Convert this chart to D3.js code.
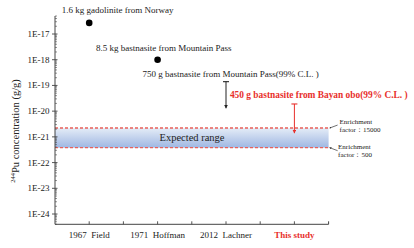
<!DOCTYPE html>
<html lang="en">
<head>
<meta charset="UTF-8">
<title>244Pu concentration</title>
<style>
    body { margin: 0; background: #fff; }
    svg text { font-family: "Liberation Serif", "Times New Roman", serif; fill: #222; }
    .red { fill: #e8302c; }
</style>
</head>
<body>
<svg width="414" height="248"></svg>
<script src="https://d3js.org/d3.v7.min.js"></script>
<script>
// data
const categories = ["1967  Field", "1971  Hoffman", "2012  Lachner", "This study"];
const categoryPos = [1, 3, 5, 7];
const yTicks = [1e-24, 1e-23, 1e-22, 1e-21, 1e-20, 1e-19, 1e-18, 1e-17];

const measured = [
    { pos: 1, value: 2.7e-17, label: "1.6 kg gadolinite from Norway" },
    { pos: 3, value: 1.0e-18, label: "8.5 kg bastnasite from Mountain Pass" }
];
const upperLimits = [
    { pos: 5, limit: 1.4e-19, tip: 1.3e-20, label: "750 g bastnasite from Mountain Pass(99% C.L. )", red: false },
    { pos: 7, limit: 1.9e-20, tip: 1.4e-21, label: "450 g bastnasite from Bayan obo(99% C.L. )", red: true }
];
const expectedRange = { high: 2.2e-21, low: 3.8e-22 };
const enrichment = [
    { value: 2.2e-21, lines: ["Enrichment", "factor\uFF1A15000"] },
    { value: 3.8e-22, lines: ["Enrichment", "factor\uFF1A500"] }
];

const svg = d3.select("svg");
const red = "#e8302c";
const dark = "#222";

const x = d3.scaleLinear().domain([0, 8]).range([55, 328.6]);
const y = d3.scaleLog().domain([Math.pow(10, -24.4), Math.pow(10, -16.3)]).range([224.3, 16]);

const defs = svg.append("defs");
const grad = defs.append("linearGradient").attr("id", "band")
    .attr("x1", 0).attr("y1", 0).attr("x2", 0).attr("y2", 1);
grad.append("stop").attr("offset", "0%").attr("stop-color", "#e4ecf7");
grad.append("stop").attr("offset", "100%").attr("stop-color", "#9fb7e2");

function marker(id, color, size) {
    defs.append("marker").attr("id", id)
        .attr("viewBox", "0 0 10 10").attr("refX", 9).attr("refY", 5)
        .attr("markerWidth", size).attr("markerHeight", size)
        .attr("orient", "auto-start-reverse")
        .append("path").attr("d", "M0,0L10,5L0,10z").attr("fill", color);
}
marker("arrDark", dark, 4);
marker("arrRed", red, 4);
marker("arrSmall", "#333", 3);

// expected range band
svg.append("rect")
    .attr("x", x(0)).attr("y", y(expectedRange.high))
    .attr("width", x(8) - x(0))
    .attr("height", y(expectedRange.low) - y(expectedRange.high))
    .attr("fill", "url(#band)");
[expectedRange.high, expectedRange.low].forEach(v => {
    svg.append("line")
        .attr("x1", x(0)).attr("x2", x(8))
        .attr("y1", y(v)).attr("y2", y(v))
        .attr("stroke", "#e8605a").attr("stroke-width", 1.4)
        .attr("stroke-dasharray", "3,2");
});
svg.append("text")
    .attr("x", 192).attr("y", (y(expectedRange.high) + y(expectedRange.low)) / 2 + 3.5)
    .attr("text-anchor", "middle").attr("font-size", 10.5)
    .text("Expected range");

// enrichment notes
enrichment.forEach((d, i) => {
    const yy = y(d.value);
    const dy = i === 0 ? -3 : 3;
    svg.append("line")
        .attr("x1", x(8) + 9).attr("y1", yy + dy)
        .attr("x2", x(8) + 1).attr("y2", yy)
        .attr("stroke", "#333").attr("stroke-width", 0.7)
        .attr("marker-end", "url(#arrSmall)");
    const t = svg.append("text")
        .attr("x", x(8) + 11 - i * 1.5).attr("y", yy + (i === 0 ? -4 : 1))
        .attr("font-size", 7);
    d.lines.forEach((l, j) => t.append("tspan")
        .attr("x", x(8) + 11 - i * 1.5).attr("dy", j === 0 ? 0 : 8.2).text(l));
});

// axes
const yAxis = svg.append("g").attr("transform", `translate(${x(0)},0)`);
yAxis.append("line").attr("x1", 0).attr("x2", 0)
    .attr("y1", y.range()[0]).attr("y2", y.range()[1])
    .attr("stroke", "#444").attr("stroke-width", 1);
const minors = [];
for (let e = -25; e <= -17; e++) {
    for (let m = 2; m <= 9; m++) {
        const v = m * Math.pow(10, e);
        if (v >= y.domain()[0] && v <= y.domain()[1]) minors.push(v);
    }
}
yAxis.selectAll(".minor").data(minors).join("line")
    .attr("x1", 0).attr("x2", 2)
    .attr("y1", d => y(d)).attr("y2", d => y(d))
    .attr("stroke", "#444").attr("stroke-width", 0.6);
yAxis.selectAll(".major").data(yTicks).join("line")
    .attr("x1", -3).attr("x2", 2.5)
    .attr("y1", d => y(d)).attr("y2", d => y(d))
    .attr("stroke", "#444").attr("stroke-width", 0.9);
yAxis.selectAll(".lbl").data(yTicks).join("text")
    .attr("x", -5.5).attr("y", d => y(d) + 3)
    .attr("text-anchor", "end").attr("font-size", 9)
    .text(d => "1E" + Math.round(Math.log10(d)));

const xAxis = svg.append("g").attr("transform", `translate(0,${y.range()[0]})`);
xAxis.append("line").attr("x1", x(0)).attr("x2", x(8))
    .attr("y1", 0).attr("y2", 0).attr("stroke", "#444").attr("stroke-width", 1);
xAxis.selectAll(".tick").data(d3.range(1, 8)).join("line")
    .attr("x1", d => x(d)).attr("x2", d => x(d))
    .attr("y1", 0).attr("y2", -3)
    .attr("stroke", "#444").attr("stroke-width", 0.9);
xAxis.append("line").attr("x1", x(8)).attr("x2", x(8))
    .attr("y1", 0).attr("y2", -3).attr("stroke", "#444");
xAxis.selectAll(".lbl").data(categories).join("text")
    .attr("x", (d, i) => x(categoryPos[i])).attr("y", 13.5)
    .attr("text-anchor", "middle")
    .attr("font-size", 9)
    .attr("font-weight", (d, i) => i === 3 ? "bold" : null)
    .attr("class", (d, i) => i === 3 ? "red" : null)
    .style("white-space", "pre")
    .text(d => d);

// y label
svg.append("text")
    .attr("transform", `translate(18.5,131) rotate(-90)`)
    .attr("text-anchor", "middle").attr("font-size", 10.5)
    .call(t => {
        t.append("tspan").attr("font-size", 6.5).attr("dy", -3.5).text("244");
        t.append("tspan").attr("dy", 3.5).text("Pu concentration (g/g)");
    });

// measured points
svg.selectAll(".pt").data(measured).join("circle")
    .attr("cx", d => x(d.pos)).attr("cy", d => y(d.value))
    .attr("r", 3.3).attr("fill", "#000");
const measuredOffsets = [[-27.5, -10], [-61.5, -9]];
svg.selectAll(".ptl").data(measured).join("text")
    .attr("x", (d, i) => x(d.pos) + measuredOffsets[i][0])
    .attr("y", (d, i) => y(d.value) + measuredOffsets[i][1])
    .attr("font-size", 9)
    .text(d => d.label);

// upper limits
const limitOffsets = [[-83.5, -4.5], [-64.5, -6]];
upperLimits.forEach((d, i) => {
    const c = d.red ? red : dark;
    const cx = x(d.pos);
    svg.append("line")
        .attr("x1", cx - 3).attr("x2", cx + 3)
        .attr("y1", y(d.limit)).attr("y2", y(d.limit))
        .attr("stroke", c).attr("stroke-width", 1.1);
    svg.append("line")
        .attr("x1", cx).attr("x2", cx)
        .attr("y1", y(d.limit)).attr("y2", y(d.tip))
        .attr("stroke", c).attr("stroke-width", 1)
        .attr("marker-end", `url(#${d.red ? "arrRed" : "arrDark"})`);
    svg.append("text")
        .attr("x", cx + limitOffsets[i][0]).attr("y", y(d.limit) + limitOffsets[i][1])
        .attr("font-size", d.red ? 9.4 : 9)
        .attr("font-weight", d.red ? "bold" : null)
        .attr("class", d.red ? "red" : null)
        .text(d.label);
});
</script>
</body>
</html>
